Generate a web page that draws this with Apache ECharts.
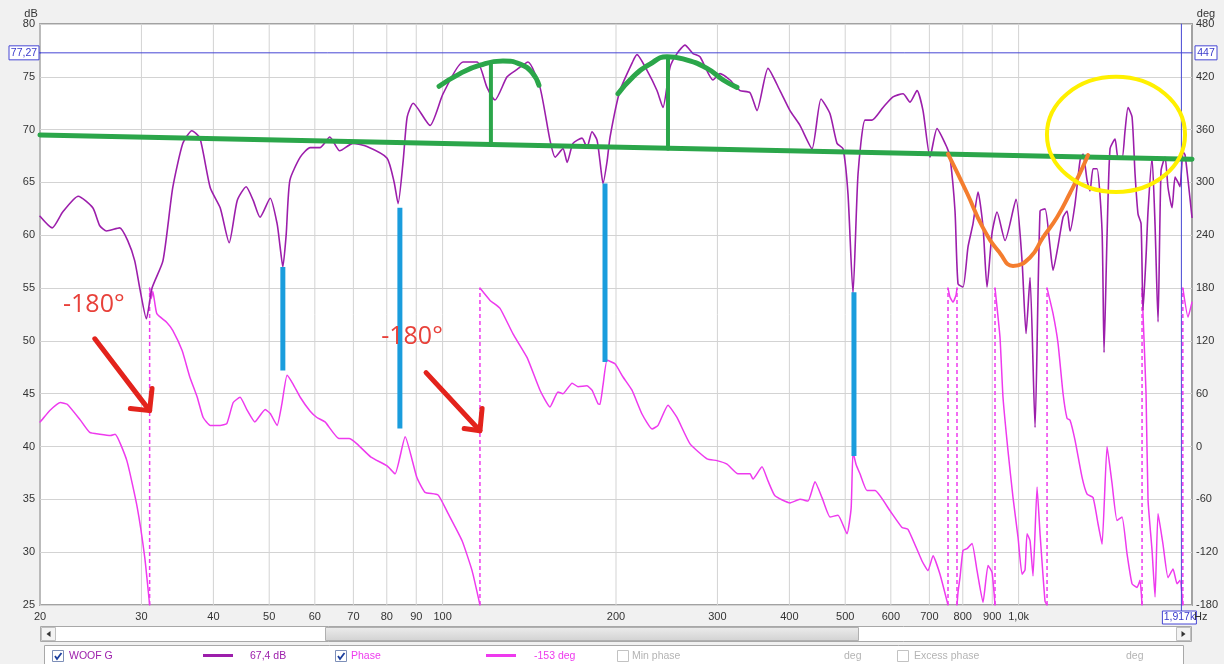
<!DOCTYPE html>
<html><head><meta charset="utf-8">
<script src="https://cdn.jsdelivr.net/npm/echarts@6/dist/echarts.min.js"></script>
<style>html,body{margin:0;padding:0;background:#f1f1f1;}#c{width:1224px;height:664px;}</style>
</head><body><div id="c"></div>
<script>
// ---------- data ----------
const freqTicks = [20,30,40,50,60,70,80,90,100,200,300,400,500,600,700,800,900,1000];
const freqTickLabels = ['20','30','40','50','60','70','80','90','100','200','300','400','500','600','700','800','900','1,0k'];
const dbRange = [25, 80];
const degRange = [-180, 480];

// WOOF G magnitude (Hz, dB)
const splWoofG = [[20,61.8],[21.0,60.7],[21.9,62.2],[23.3,63.7],[24.7,62.6],[25.4,60.9],[26.1,60.4],[27.5,60.7],[28.4,59.5],[29.2,57.6],[29.8,55.0],[30.6,52.1],[31.3,55.0],[32.7,57.6],[34.0,64.5],[35.4,68.7],[36.7,69.9],[37.9,69.2],[39.5,64.5],[41.1,62.6],[42.6,59.3],[44.0,63.3],[45.6,64.6],[46.9,63.3],[48.2,61.7],[50.2,63.5],[51.6,61.1],[52.2,59.0],[52.8,57.0],[53.5,60.0],[54.3,65.2],[56.6,67.4],[58.9,68.3],[61.3,68.3],[63.7,69.3],[66.3,68.0],[69.9,68.7],[73.9,68.4],[80.1,67.3],[82.4,65.0],[83.7,63.0],[85.4,67.0],[86.8,71.2],[88.9,72.5],[95.1,70.4],[100.2,73.4],[108.5,76.4],[114.8,76.4],[119.4,74.0],[123.3,72.8],[129.4,75.0],[134.7,75.7],[140.7,76.4],[147.6,74.0],[153.6,69.0],[156.8,67.4],[161.8,68.2],[164.5,66.9],[168.4,68.7],[174.6,69.2],[178.1,68.3],[181.7,69.8],[185.4,69.0],[187.6,67.0],[189.9,64.9],[193.0,67.0],[195.3,69.3],[203.2,73.7],[214.1,76.5],[217.5,77.1],[226.4,75.6],[235.6,73.7],[241.3,72.1],[248.2,75.9],[255.2,77.2],[263.5,78.0],[272.1,77.2],[279.8,76.9],[294.7,74.7],[303.1,75.3],[315.5,74.7],[328.3,73.7],[341.7,73.5],[351.4,71.8],[367.2,75.8],[385.2,73.7],[401.0,71.8],[417.3,70.4],[437.8,68.2],[453.9,72.9],[470.5,71.5],[483.9,68.7],[495.6,68.2],[505.6,63.9],[515.8,54.5],[526.3,65.8],[541.2,70.9],[556.5,70.9],[581.6,72.1],[605.3,73.1],[630.0,73.4],[647.9,72.6],[666.2,73.7],[682.4,71.8],[701.8,67.4],[721.7,70.1],[751.1,68.3],[760.2,67.4],[775.5,62.3],[784.9,55.4],[800.7,55.1],[816.9,58.9],[833.4,61.1],[850.3,64.1],[867.4,60.8],[881.4,55.1],[899.2,60.2],[917.4,62.2],[947.2,59.5],[989.8,63.4],[1013.8,57.6],[1030.2,50.7],[1046.8,56.0],[1067.9,41.8],[1089.5,62.3],[1111.5,62.5],[1134.0,58.9],[1147.6,56.7],[1170.8,59.0],[1194.5,61.7],[1213.7,62.3],[1228.4,60.4],[1253.2,63.0],[1278.5,67.1],[1293.9,67.7],[1314.8,65.2],[1330.6,64.2],[1346.6,66.3],[1368.3,66.3],[1396.0,60.4],[1407.2,48.9],[1424.2,60.0],[1441.3,68.2],[1470.4,69.1],[1488.2,67.3],[1512.2,67.3],[1530.4,69.9],[1548.9,72.1],[1573.8,71.2],[1592.8,65.8],[1612.0,62.0],[1631.5,61.1],[1644.5,52.9],[1664.4,58.0],[1677.7,62.3],[1704.8,67.3],[1725.3,61.0],[1746.1,51.8],[1767.2,66.1],[1795.7,67.4],[1817.4,64.5],[1846.7,62.6],[1869.0,65.5],[1891.5,65.0],[1906.7,64.6],[1929.7,67.9],[1945.3,67.6],[1968.7,65.2],[2000,61.7]];

// Phase (Hz, deg); null = wrap
const phaseWoofG = [[20,28],[20.2,31],[20.8,41],[21.7,50],[22.3,48],[23.5,30],[24.4,16],[25.4,14],[26.5,12.5],[27.0,14],[28.3,-16],[29.5,-69],[30.4,-126],[31.0,-180],null,
 [31.0,180],[31.2,168],[31.4,176],[31.9,151],[33.2,141],[34.0,132],[35.3,109],[36.4,79],[37.5,56],[38.4,33],[39.5,24],[41.1,24],[42.2,26],[43.3,50],[44.5,56],[45.8,41],[47.2,28],[49.2,42],[50.2,37.5],[51.6,24],[52.6,48.5],[53.7,81],[55.0,71],[56.6,56],[58.9,40],[60.5,33],[62.5,28],[66.1,9],[68.8,9],[71.0,3],[75.1,-12],[80.1,-22],[82.7,-31],[86.1,11],[90.2,-35],[93.2,-52],[98.2,-55],[102.2,-76],[108.1,-107],[112.5,-141],[116.1,-180],null,
 [116.1,180],[120.9,166],[125.8,157],[132.5,128],[140.2,101],[147.6,64],[153.6,45],[158.6,62],[161.8,60],[167.8,72],[171.8,68],[178.1,69],[181.7,64],[186.2,48.5],[187.6,48],[189.9,70],[193.0,98],[199.2,94],[205.7,79],[213.2,64],[221.9,37],[231.0,20],[236.6,24],[246.2,47],[255.2,33],[268.9,3],[287.8,-14],[299.5,-16],[311.7,-20],[325.7,-31],[341.7,-31],[345.8,-37],[358.5,-23],[367.2,-39],[377.6,-56],[401.0,-64],[417.3,-60],[430.9,-62],[443.1,-40],[455.7,-58],[470.5,-80],[485.8,-78],[503.6,-99],[512,-70],[515.8,-6],[522,-20],[530.4,-31],[545.5,-50],[563.3,-50],[598.1,-73],[627.5,-92],[642.7,-94],[679.7,-130],[696.2,-141],[710.3,-124],[730.3,-145],[754.1,-180],null,
 [754.1,180],[760,170],[769.3,164],[778.6,172],[781.7,180],null,
 [781.7,-180],[785,-165],[791.1,-149],[800.7,-118],[813.6,-116],[830.1,-110],[846.9,-141],[867.4,-177],[884.9,-135],[899.2,-143],[910,-180],null,
 [910,180],[928.3,124],[939.5,56],[958.5,-5],[977.9,-58],[997.6,-103],[1013.8,-145],[1026,-140],[1034.3,-99],[1046.8,-107],[1059.4,-147],[1076.5,-46],[1089.5,-99],[1111.5,-176],[1120.4,-180],null,
 [1120.4,180],[1147.6,151],[1170.8,117],[1194.5,60],[1213.7,32],[1228.4,30],[1253.2,7],[1288.8,-35],[1314.8,-54],[1346.6,-58],[1373.8,-88],[1396.0,-111],[1424.2,0],[1452.9,-42],[1482.2,-84],[1512.2,-80],[1542.6,-122],[1573.8,-156],[1605.6,-160],[1624.9,-152],[1638.0,-180],null,
 [1638.0,180],[1644.5,150],[1664.4,60],[1677.7,-61],[1704.8,-118],[1725.3,-171],[1746.1,-76],[1781.0,-111],[1817.4,-149],[1854.0,-139],[1883.9,-156],[1906.7,-152],[1928,-180],null,
 [1928,180],[1968.7,147],[2000,164]];
const phaseWrapFreqs = [31.0,116.1,754.1,781.7,910,1120.4,1638.0,1928];

const cursorFreq = 1917;
const cursorDb = 77.27;

// hand-drawn annotations (Hz, dB)
const targetLine = [[20,69.5],[2000,67.2]];
const peakArc1 = [[98.6,74.1],[107.2,75.3],[116.1,76.1],[127.3,76.5],[136.3,76.2],[143.0,75.4],[147.0,74.2]];
const peakArc2 = [[201.6,73.4],[214.1,75.0],[229.1,76.2],[245.2,76.9],[261.4,76.7],[287.8,75.8],[306.9,74.7],[324.4,74.0]];
const peakStem1 = [[121.3,76.3],[121.3,68.6]];
const peakStem2 = [[246.2,76.8],[246.2,68.2]];
const nullMarkers = [[[52.8,57.0],[52.8,47.2]],[[84.3,62.6],[84.3,41.7]],[[191.4,64.9],[191.4,48.0]],[[517.8,54.6],[517.8,39.1]]];
const dipCurve = [[754.1,67.7],[813.6,64.0],[867.4,60.7],[928.3,58.3],[977.9,57.1],[1046.8,57.9],[1102.6,59.8],[1166.2,61.7],[1228.4,64.0],[1278.5,65.9],[1320,67.6]];
const highlightEllipse = [[1120,75.0],[1945,64.1]];
const arrow1 = [[[24.9,50.2],[31.0,43.4]],[[28.7,43.6],[31.0,43.4],[31.3,45.5]]];
const arrow2 = [[[93.6,47.0],[116.1,41.5]],[[109.0,41.7],[116.1,41.5],[117.1,43.6]]];
const arrowLabels = [[24.8,53.4,'-180°'],[88.5,50.4,'-180°']];

// ---------- chart ----------
const FONT = '"Liberation Sans", Arial, sans-serif';
const C_DB = '#9c1eab', C_PH = '#ee3aee', C_GRID = '#d3d3d3', C_CUR = '#4646d4';
const C_GREEN = '#2ba64a', C_BLUE = '#1a9ddd', C_ORANGE = '#f47d2e', C_RED = '#e3231c', C_YEL = '#fff000';

const series = [];
function lineSeries(data, color, width, opts) {
  return Object.assign({type:'line', data, symbol:'none', silent:true, animation:false,
    lineStyle:{color, width, cap:'round', join:'round'}, xAxisIndex:0, yAxisIndex:0, z:2}, opts||{});
}
// vertical grid lines at frequency ticks
freqTicks.forEach(f => series.push(lineSeries([[f,dbRange[0]],[f,dbRange[1]]], C_GRID, 1, {z:1})));
// phase segments
let seg = [];
phaseWoofG.forEach(p => { if (p === null) { series.push(lineSeries(seg, C_PH, 1.5, {yAxisIndex:1, z:2, smooth:0.15})); seg = []; } else seg.push(p); });
if (seg.length) series.push(lineSeries(seg, C_PH, 1.5, {yAxisIndex:1, z:2, smooth:0.15}));
// phase wrap dashes
phaseWrapFreqs.forEach(f => series.push(lineSeries([[f,-180],[f,180]], C_PH, 1.5, {yAxisIndex:1, z:2, lineStyle:{color:C_PH,width:1.5,type:[4,3]}})));
// magnitude
series.push(lineSeries(splWoofG, C_DB, 1.6, {z:3, smooth:0.2}));
// cursor
series.push(lineSeries([[20,cursorDb],[2000,cursorDb]], C_CUR, 1, {z:4}));
series.push(lineSeries([[cursorFreq,dbRange[0]],[cursorFreq,dbRange[1]]], C_CUR, 1, {z:4}));
// annotations
series.push(lineSeries(targetLine, C_GREEN, 5, {z:6}));
series.push(lineSeries(peakArc1, C_GREEN, 5, {z:6, smooth:0.5}));
series.push(lineSeries(peakArc2, C_GREEN, 5, {z:6, smooth:0.5}));
series.push(lineSeries(peakStem1, C_GREEN, 4, {z:6}));
series.push(lineSeries(peakStem2, C_GREEN, 4, {z:6}));
nullMarkers.forEach(m => series.push(lineSeries(m, C_BLUE, 5, {z:6, lineStyle:{color:C_BLUE,width:5,cap:'butt'}})));
series.push(lineSeries(dipCurve, C_ORANGE, 4, {z:6, smooth:0.5}));
[arrow1, arrow2].forEach(a => a.forEach(part => series.push(lineSeries(part, C_RED, 5, {z:7}))));

const option = {
  animation:false,
  grid:{left:40, right:32, top:24, bottom:59, show:true, backgroundColor:'#ffffff', borderColor:'#a2a2a2', borderWidth:2},
  xAxis:{type:'log', logBase:10, min:20, max:2000, axisLabel:{show:false}, axisTick:{show:false}, splitLine:{show:false}, axisLine:{show:false}, minorTick:{show:false}, minorSplitLine:{show:false}},
  yAxis:[
    {type:'value', min:dbRange[0], max:dbRange[1], interval:5, position:'left',
     axisLabel:{color:'#333', fontSize:11, fontFamily:'Liberation Sans', margin:5},
     splitLine:{show:true, lineStyle:{color:C_GRID, width:1}}, axisLine:{show:false}, axisTick:{show:false}},
    {type:'value', min:degRange[0], max:degRange[1], interval:60, position:'right',
     axisLabel:{color:'#333', fontSize:11, fontFamily:'Liberation Sans', margin:4},
     splitLine:{show:false}, axisLine:{show:false}, axisTick:{show:false}}
  ],
  series
};

const chart = echarts.init(document.getElementById('c'));
chart.setOption(option);

function toPx(f, v) { return chart.convertToPixel({xAxisIndex:0, yAxisIndex:0}, [f, v]); }

function txt(x, y, s, color, size, align, extra) {
  return Object.assign({type:'text', x, y, z:50, silent:true,
    style:{text:s, fill:color, font:(size||11)+'px '+FONT, align:align||'left', textAlign:align||'left', verticalAlign:'middle', textVerticalAlign:'middle'}}, extra||{});
}
function rect(x, y, w, h, fill, stroke, z) {
  return {type:'rect', z:z||40, silent:true, shape:{x, y, width:w, height:h}, style:{fill, stroke, lineWidth:1}};
}
function checkbox(x, y, checked) {
  const g = [rect(x+0.5, y+0.5, 11, 11, '#ffffff', checked ? '#7d8fb8' : '#c2c2c2', 45)];
  if (checked) g.push({type:'polyline', z:46, silent:true, shape:{points:[[x+3,y+6],[x+5,y+9],[x+9.5,y+3]]}, style:{stroke:'#1c3f9e', lineWidth:1.8, fill:null}});
  return g;
}

const g = [];
// frequency tick labels
const yBottom = toPx(20, dbRange[0])[1];
freqTicks.forEach((f, i) => { const p = toPx(f, dbRange[0]); g.push(txt(p[0], yBottom + 12, freqTickLabels[i], '#333', 11, 'center')); });
g.push(txt(1194, yBottom + 12, 'Hz', '#333', 11, 'left'));
// axis units
g.push(txt(31, 14, 'dB', '#333', 11, 'center'));
g.push(txt(1206, 14, 'deg', '#333', 11, 'center'));
// ellipse
const e1 = toPx(highlightEllipse[0][0], highlightEllipse[0][1]);
const e2 = toPx(highlightEllipse[1][0], highlightEllipse[1][1]);
g.push({type:'ellipse', z:30, silent:true, shape:{cx:(e1[0]+e2[0])/2, cy:(e1[1]+e2[1])/2, rx:Math.abs(e2[0]-e1[0])/2, ry:Math.abs(e2[1]-e1[1])/2}, style:{fill:null, stroke:C_YEL, lineWidth:4}});
// red labels
arrowLabels.forEach(a => { const p = toPx(a[0], a[1]); g.push(txt(p[0], p[1], a[2], '#e8413a', 25, 'center', {style:{text:a[2], fill:'#e8413a', font:'25px "Open Sans", sans-serif', align:'center', textAlign:'center', verticalAlign:'middle', textVerticalAlign:'middle'}})); });
// cursor boxes
const cy = toPx(20, cursorDb)[1];
const cx = toPx(cursorFreq, 25)[0];
g.push(rect(9, cy - 7, 30, 14, '#ffffff', C_CUR, 41));
g.push(txt(24, cy, '77,27', '#3a3acb', 10.5, 'center'));
g.push({type:'line', z:41, silent:true, shape:{x1:39, y1:cy, x2:41, y2:cy}, style:{stroke:C_CUR, lineWidth:1}});
g.push(rect(1195, cy - 7, 22, 14, '#ffffff', C_CUR, 41));
g.push(txt(1206, cy, '447', '#3a3acb', 10.5, 'center'));
g.push(rect(cx - 19, yBottom + 6, 34, 13, '#ffffff', C_CUR, 42));
g.push(txt(cx - 2, yBottom + 12.5, '1,917k', '#3a3acb', 10.5, 'center', {z:52}));
g.push({type:'line', z:41, silent:true, shape:{x1:cx, y1:yBottom, x2:cx, y2:yBottom+6}, style:{stroke:C_CUR, lineWidth:1}});
// scrollbar
g.push(rect(40.5, 626.5, 1151, 15, '#ffffff', '#a8a8a8', 40));
g.push({type:'rect', z:41, silent:true, shape:{x:325.5, y:627.5, width:533, height:13}, style:{fill:new echarts.graphic.LinearGradient(0,0,0,1,[{offset:0,color:'#ececec'},{offset:1,color:'#d2d2d2'}]), stroke:'#b0b0b0', lineWidth:1}});
g.push(rect(41.5, 627.5, 14, 13, '#f3f3f3', '#c0c0c0', 41));
g.push(rect(1176.5, 627.5, 14, 13, '#f3f3f3', '#c0c0c0', 41));
g.push({type:'polygon', z:42, silent:true, shape:{points:[[46.5,634],[50.5,631],[50.5,637]]}, style:{fill:'#333'}});
g.push({type:'polygon', z:42, silent:true, shape:{points:[[1185.5,634],[1181.5,631],[1181.5,637]]}, style:{fill:'#333'}});
// legend panel
g.push(rect(44.5, 645.5, 1139, 22, '#ffffff', '#a8a8a8', 40));
checkbox(52, 650, true).forEach(o => g.push(o));
g.push(txt(69, 656, 'WOOF G', C_DB, 10.5, 'left'));
g.push({type:'line', z:45, silent:true, shape:{x1:203, y1:655.5, x2:233, y2:655.5}, style:{stroke:C_DB, lineWidth:3}});
g.push(txt(250, 656, '67,4 dB', C_DB, 10.5, 'left'));
checkbox(335, 650, true).forEach(o => g.push(o));
g.push(txt(351, 656, 'Phase', C_PH, 10.5, 'left'));
g.push({type:'line', z:45, silent:true, shape:{x1:486, y1:655.5, x2:516, y2:655.5}, style:{stroke:C_PH, lineWidth:3}});
g.push(txt(534, 656, '-153 deg', C_PH, 10.5, 'left'));
checkbox(617, 650, false).forEach(o => g.push(o));
g.push(txt(632, 656, 'Min phase', '#b4b4b4', 10.5, 'left'));
g.push(txt(844, 656, 'deg', '#b4b4b4', 10.5, 'left'));
checkbox(897, 650, false).forEach(o => g.push(o));
g.push(txt(914, 656, 'Excess phase', '#b4b4b4', 10.5, 'left'));
g.push(txt(1126, 656, 'deg', '#b4b4b4', 10.5, 'left'));

chart.setOption({graphic:{elements:g}});
</script></body></html>
